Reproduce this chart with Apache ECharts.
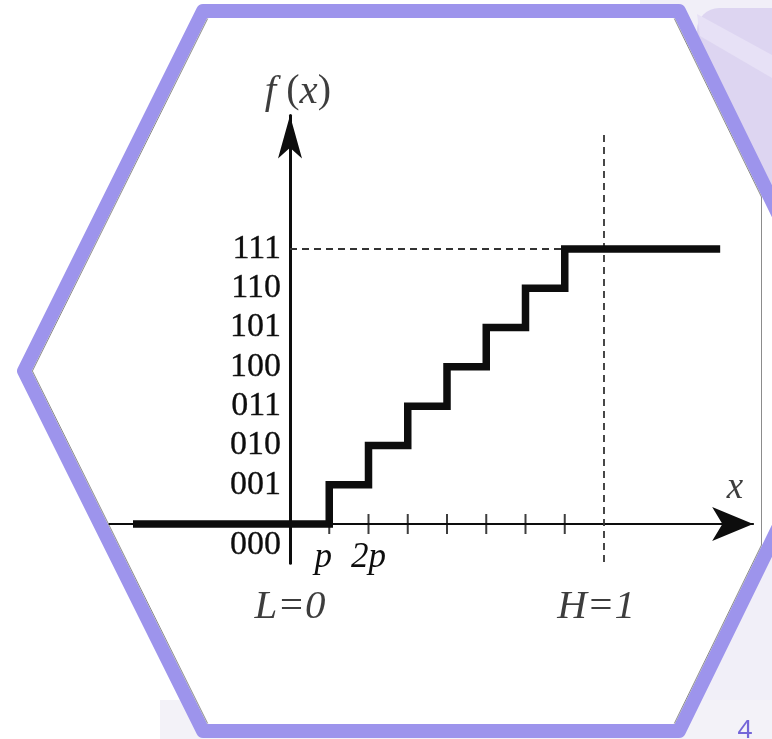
<!DOCTYPE html>
<html>
<head>
<meta charset="utf-8">
<script src="https://cdn.jsdelivr.net/npm/echarts@6/dist/echarts.min.js"></script>
<style>
html, body { margin: 0; padding: 0; background: #fff; }
#chart { width: 772px; height: 739px; }
</style>
</head>
<body>
<div id="chart"></div>
<script>
// codes on the f(x) axis
var codeLevels = [0, 1, 2, 3, 4, 5, 6, 7];
var codeLabels = ['000', '001', '010', '011', '100', '101', '110', '111'];
// staircase: breakpoints in x and the level that starts there
var stepX = [-0.5, 0.125, 0.25, 0.375, 0.5, 0.625, 0.75, 0.875, 1.37];
var stepY = [0, 1, 2, 3, 4, 5, 6, 7, 7];
// small ticks on the x axis (k*p, p = 1/8)
var tickX = [0.125, 0.25, 0.375, 0.5, 0.625, 0.75, 0.875];
var xLabelValues = [0.125, 0.25];
var xLabelTexts = ['p', '2p'];
// guide lines
var topGuide = [[0, 7], [0.875, 7]];
var highGuide = [[1, -0.97], [1, 10]];
// annotations [x, y, text]
var notes = [[0.025, 11.0, 'f(x)'], [1.417, 0.92, 'x'], [0, -2.11, 'L=0'], [0.975, -2.11, 'H=1']];

var serif = '"Liberation Serif", "DejaVu Serif", serif';
var purple = '#9D94EC';
var ink = '#0d0d0d';

var myChart = echarts.init(document.getElementById('chart'));

// x: 0 -> 290px, 1 -> 604px ; y: 0 -> 524px, 7 -> 249px
myChart.setOption({
    backgroundColor: '#fff',
    animation: false,
    grid: {
        left: 109.45,
        right: 18.85,
        top: 115.4,
        bottom: 175.71,
        containLabel: false,
        outerBoundsMode: 'none'
    },
    xAxis: {
        type: 'value',
        min: -0.575,
        max: 1.475,
        position: 'bottom',
        offset: -39.29,
        axisLine: {
            onZero: false,
            symbol: ['none', 'arrow'],
            symbolSize: [25.5, 41],
            lineStyle: { color: ink, width: 2 }
        },
        axisTick: { show: false },
        splitLine: { show: false },
        axisLabel: {
            customValues: xLabelValues,
            margin: 16,
            color: ink,
            fontFamily: serif,
            fontStyle: 'italic',
            fontSize: 35,
            formatter: function (v) {
                var i = xLabelValues.indexOf(v);
                if (i === 0) return '{sh|' + xLabelTexts[i] + '}';
                return i >= 0 ? xLabelTexts[i] : '';
            },
            rich: {
                sh: { padding: [0, 12, 0, 0], fontFamily: serif, fontStyle: 'italic', fontSize: 35, color: ink }
            }
        }
    },
    yAxis: {
        type: 'value',
        min: -1,
        max: 10.4,
        position: 'left',
        offset: -180.55,
        axisLine: {
            show: true,
            onZero: false,
            symbol: ['none', 'arrow'],
            symbolSize: [18, 43],
            lineStyle: { color: ink, width: 3 }
        },
        axisTick: { show: false },
        splitLine: { show: false },
        axisLabel: {
            customValues: codeLevels,
            margin: 9,
            color: ink,
            fontFamily: serif,
            fontSize: 34,
            textBorderColor: ink,
            textBorderWidth: 0.3,
            formatter: function (v) {
                var i = codeLevels.indexOf(v);
                if (i === 0) return '{low|' + codeLabels[0] + '}';
                return i >= 0 ? codeLabels[i] : '';
            },
            rich: {
                low: { padding: [42, 0, 0, 0], fontFamily: serif, fontSize: 34, color: ink }
            }
        }
    },
    graphic: [
        // slide background
        { type: 'rect', z: -20, shape: { x: 640, y: 0, width: 132, height: 739 }, style: { fill: '#F1EFF8' } },
        { type: 'rect', z: -20, shape: { x: 160, y: 700, width: 612, height: 39 }, style: { fill: '#F3F2F8' } },
        { type: 'rect', z: -19, shape: { x: 697, y: 8, width: 200, height: 240, r: [22, 0, 0, 0] }, style: { fill: '#DDD5F1' } },
        { type: 'polygon', z: -19, shape: { points: [[697, 14], [772, 55], [772, 78], [700, 36]] }, style: { fill: '#E7E1F6' } },
        // hexagon frame
        {
            type: 'polygon', z: -18,
            shape: { points: [[203, 11], [679, 11], [855, 371], [679, 731], [203, 731], [24, 371]] },
            style: { fill: '#fff', stroke: purple, lineWidth: 14, lineJoin: 'round' }
        },
        { type: 'polyline', z: -17, shape: { points: [[207.7, 18.5], [32.4, 371], [207.7, 723.5]] }, style: { stroke: '#8c8c8c', lineWidth: 1, fill: null } },
        { type: 'polyline', z: -17, shape: { points: [[674.3, 18.5], [761.5, 197], [761.5, 545], [674.3, 723.5]] }, style: { stroke: '#8c8c8c', lineWidth: 1, fill: null } },
        // slide number
        { type: 'text', z: 10, x: 745, y: 731, style: { text: '4', fill: '#7466D8', font: '26px "Noto Sans", Roboto, sans-serif', align: 'center', verticalAlign: 'middle' } }
    ],
    series: [
        {
            name: 'f(x)',
            type: 'line',
            step: 'end',
            symbol: 'none',
            clip: false,
            z: 3,
            data: stepX.map(function (x, i) { return [x, stepY[i]]; }),
            lineStyle: { color: ink, width: 7.5, join: 'miter', cap: 'butt' }
        },
        {
            type: 'line',
            symbol: 'none',
            clip: false,
            z: 2,
            data: topGuide,
            lineStyle: { color: '#333', width: 1.8, type: [7, 5] }
        },
        {
            type: 'line',
            symbol: 'none',
            clip: false,
            z: 2,
            data: highGuide,
            lineStyle: { color: '#333', width: 1.8, type: [7, 5] }
        },
        {
            type: 'scatter',
            symbol: 'rect',
            symbolSize: [2, 20],
            z: 4,
            clip: false,
            data: tickX.map(function (x) { return [x, 0]; }),
            itemStyle: { color: ink }
        },
        {
            type: 'scatter',
            symbolSize: 0,
            clip: false,
            z: 5,
            data: notes,
            label: {
                show: true,
                position: 'inside',
                formatter: function (p) {
                    var t = p.value[2];
                    if (t === 'f(x)') return '{i|f}{n| (}{i|x}{n|)}';
                    if (t === 'x') return '{x|x}';
                    return '{i|' + t + '}';
                },
                rich: {
                    i: { fontFamily: serif, fontStyle: 'italic', fontSize: 41, color: ink },
                    n: { fontFamily: serif, fontSize: 40, color: ink },
                    x: { fontFamily: serif, fontStyle: 'italic', fontSize: 37, color: ink }
                }
            }
        }
    ]
});
</script>
</body>
</html>
